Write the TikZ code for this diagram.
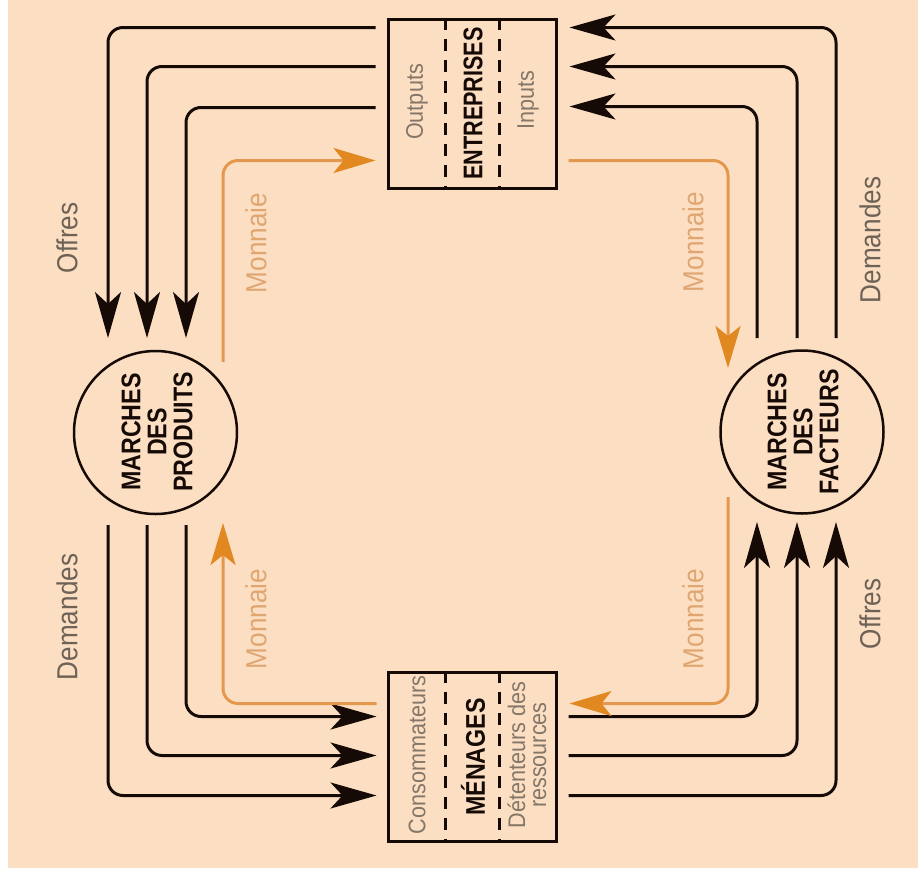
\documentclass[tikz,border=0pt]{standalone}
\usepackage{fontspec}
\setmainfont[FakeStretch=0.9]{Liberation Sans}
\newfontfamily\cndA[FakeStretch=0.8]{Liberation Sans}
\newfontfamily\cndB[FakeStretch=0.86]{Liberation Sans}
\usetikzlibrary{arrows.meta,calc}
\definecolor{peach}{RGB}{252,223,195}
\definecolor{orn}{RGB}{228,152,78}
\definecolor{ornhead}{RGB}{226,136,32}
\definecolor{montxt}{RGB}{224,166,114}
\definecolor{lbl}{RGB}{110,97,85}
\definecolor{innertxt}{RGB}{132,118,104}
\definecolor{ink}{RGB}{22,10,6}
\begin{document}
\begin{tikzpicture}[x=1pt,y=-1pt,
  blk/.style={draw=ink, line width=3pt, rounded corners=15pt,
    -{Stealth[length=46pt,width=26pt,inset=12pt,color=ink]}},
  orng/.style={draw=orn, line width=3pt, rounded corners=15pt,
    -{Stealth[length=42pt,width=25pt,inset=10pt,color=ornhead]}},
  box/.style={draw=ink, line width=3pt, minimum width=168pt, minimum height=169pt, inner sep=0pt},
  mkt/.style={draw=ink, line width=2.5pt, circle, minimum size=163pt, inner sep=0pt},
  divider/.style={draw=ink, line width=2.5pt, dash pattern=on 12pt off 9pt},
  smalltxt/.style={font=\fontsize{24}{21}\selectfont, text=innertxt, rotate=90, align=center},
  bigtxt/.style={font=\cndA\fontsize{27}{27}\selectfont\bfseries, text=ink, rotate=90},
  bigtxtb/.style={font=\cndB\fontsize{27}{27}\selectfont\bfseries, text=ink, rotate=90},
  mkttxt/.style={font=\cndB\fontsize{27}{26}\selectfont\bfseries, text=ink, rotate=90, align=center},
  lab/.style={font=\fontsize{29}{30}\selectfont, text=lbl, rotate=90},
  mon/.style={font=\fontsize{29}{30}\selectfont, text=montxt, rotate=90}
]
% background
\fill[white] (0,0) rectangle (918,878);
\fill[peach] (8,0) rectangle (918,868);
\useasboundingbox (0,0) rectangle (918,878);

% main nodes
\node[box] (ent) at (472,103.5) {};
\node[box] (men) at (472,756.5) {};
\node[mkt] (prod) at (155.5,432.5) {};
\node[mkt] (fact) at (802,432) {};

% dividers
\draw[divider] ($(ent.north west)+(59,0)$) -- ($(ent.south west)+(59,0)$);
\draw[divider] ($(ent.north west)+(113,0)$) -- ($(ent.south west)+(113,0)$);
\draw[divider] ($(men.north west)+(59,0)$) -- ($(men.south west)+(59,0)$);
\draw[divider] ($(men.north west)+(113,0)$) -- ($(men.south west)+(113,0)$);

% box texts
\node[smalltxt] (outp) at (417,102) {Outputs};
\node[bigtxt] (entt) at (473,103.5) {ENTREPRISES};
\node[smalltxt] (inp) at (528,100) {Inputs};
\node[smalltxt] (cons) at (417,755) {Consommateurs};
\node[bigtxtb] (ment) at (473,757) {MÉNAGES};
\node[smalltxt] (det) at (527,755) {Détenteurs des\\ressources};

% market texts
\node[mkttxt] (prodt) at (157,432) {MARCHES\\DES\\PRODUITS};
\node[mkttxt] (factt) at (803,432) {MARCHES\\DES\\FACTEURS};

% named free ends
\coordinate (tl1) at (108,338);
\coordinate (tl2) at (147,338);
\coordinate (tl3) at (186,338);
\coordinate (tr1) at (836,338);
\coordinate (tr2) at (797,338);
\coordinate (tr3) at (757,338);
\coordinate (bl1) at (108,525);
\coordinate (bl2) at (147,525);
\coordinate (bl3) at (186,525);
\coordinate (br1) at (836,522);
\coordinate (br2) at (797,522);
\coordinate (br3) at (757,522);
\coordinate (otl) at (223,362);
\coordinate (otr) at (728,368);
\coordinate (obl) at (223,523);
\coordinate (obr) at (728,497);

% top-left: offres (entreprises -> produits)
\draw[blk] ($(ent.north west)+(-11,10)$) -| (tl1);
\draw[blk] ($(ent.north west)+(-11,49)$) -| (tl2);
\draw[blk] ($(ent.north west)+(-11,90)$) -| (tl3);

% top-right: demandes (facteurs -> entreprises)
\draw[blk] (tr1) |- ($(ent.north east)+(12,10)$);
\draw[blk] (tr2) |- ($(ent.north east)+(12,49)$);
\draw[blk] (tr3) |- ($(ent.north east)+(12,89)$);

% bottom-left: demandes (produits -> menages)
\draw[blk] (bl1) |- ($(men.north west)+(-10,125)$);
\draw[blk] (bl2) |- ($(men.north west)+(-10,85)$);
\draw[blk] (bl3) |- ($(men.north west)+(-10,46)$);

% bottom-right: offres (menages -> facteurs)
\draw[blk] ($(men.north east)+(11,46)$) -| (br3);
\draw[blk] ($(men.north east)+(11,85)$) -| (br2);
\draw[blk] ($(men.north east)+(11,125)$) -| (br1);

% monnaie flows
\draw[orng] (otl) |- ($(ent.north west)+(-11,143)$);
\draw[orng] ($(ent.north east)+(11,143)$) -| (otr);
\draw[orng] (obr) |- ($(men.north east)+(12,33)$);
\draw[orng] ($(men.north west)+(-10,33)$) -| (obl);

% labels
\node[lab] (off1) at (67,238) {Offres};
\node[lab] (dem1) at (870,240) {Demandes};
\node[lab] (dem2) at (67,617) {Demandes};
\node[lab] (off2) at (870,614) {Offres};
\node[mon] (mon1) at (256,243) {Monnaie};
\node[mon] (mon2) at (693,242) {Monnaie};
\node[mon] (mon3) at (256,619) {Monnaie};
\node[mon] (mon4) at (693,619) {Monnaie};
\end{tikzpicture}
\end{document}
